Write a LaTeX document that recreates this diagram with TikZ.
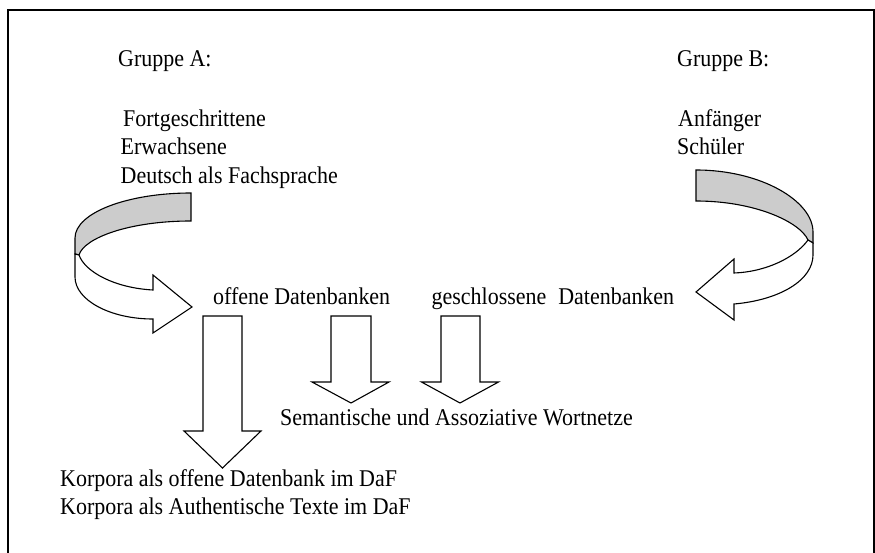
\documentclass[tikz,border=0pt]{standalone}
\usepackage{fontspec}
\newfontfamily\gar[FakeStretch=0.915]{Liberation Serif}
\tikzset{
  txt/.style={anchor=base west, inner sep=0pt, font=\gar\fontsize{24}{28}\selectfont},
  ribbon/.style={draw, line width=1.1pt, line join=miter},
  backface/.style={ribbon, fill=gray!40},
  blockarrow/.style={ribbon, fill=white},
  frame/.style={draw, line width=1.4pt}
}
\begin{document}
\begin{tikzpicture}[x=1pt, y=-1pt]
\useasboundingbox (0,0) rectangle (875,553);
\fill[white] (0,0) rectangle (875,553);
% open frame
\draw[frame] (8,553.5) -- (8,10) -- (874,10) -- (874,553.5);

% group labels
\node[txt] (ga) at (118,66.7) {Gruppe A:};
\node[txt] (gb) at (677,66.7) {Gruppe B:};
\node[txt] (a1) at (123,126.7) {Fortgeschrittene};
\node[txt] (a2) at (120.5,155) {Erwachsene};
\node[txt] (a3) at (120.5,183.3) {Deutsch als Fachsprache};
\node[txt] (b1) at (678,126.7) {Anfänger};
\node[txt] (b2) at (677,155) {Schüler};

% database labels
\node[txt] (od) at (213,305) {offene Datenbanken};
\node[txt] (gd) at (431.5,305) {geschlossene\hspace{12pt}Datenbanken};
\node[txt] (sw) at (280,425) {Semantische und Assoziative Wortnetze};
\node[txt] (k1) at (60,486.5) {Korpora als offene Datenbank im DaF};
\node[txt] (k2) at (60,514.5) {Korpora als Authentische Texte im DaF};

% left curved ribbon arrow (Gruppe A -> offene Datenbanken)
\path[backface] (191,193) .. controls (127,193) and (75,213) .. (75,238)
  -- (75,254) -- (79,255)
  .. controls (84,238) and (129,221) .. (191,221) -- cycle;
\path[blockarrow] (79,255) .. controls (85,272) and (115,288) .. (153,290)
  -- (153,275) -- (192,307) -- (153,333) -- (153,319)
  .. controls (110,319) and (75,300) .. (75,277) -- (75,254) -- cycle;

% right curved ribbon arrow (Gruppe B -> geschlossene Datenbanken)
\path[backface] (696,170) .. controls (761,170) and (813,201) .. (813,232)
  -- (813,243) -- (808,240)
  .. controls (800,222) and (755,201) .. (696,201) -- cycle;
\path[blockarrow] (808,240) .. controls (795,258) and (765,272) .. (734,273)
  -- (734,259) -- (696,292) -- (734,320) -- (734,304)
  .. controls (780,300) and (813,280) .. (813,255) -- (813,243) -- cycle;

% downward block arrows
\path[blockarrow] (203,316) -- (242,316) -- (242,431) -- (261,431)
  -- (222.5,468) -- (184,431) -- (203,431) -- cycle;
\path[blockarrow] (331,316) -- (371,316) -- (371,382) -- (389,382)
  -- (351,403) -- (312,382) -- (331,382) -- cycle;
\path[blockarrow] (441,316) -- (480,316) -- (480,382) -- (498.5,382)
  -- (460,403) -- (421.5,382) -- (441,382) -- cycle;
\end{tikzpicture}
\end{document}
